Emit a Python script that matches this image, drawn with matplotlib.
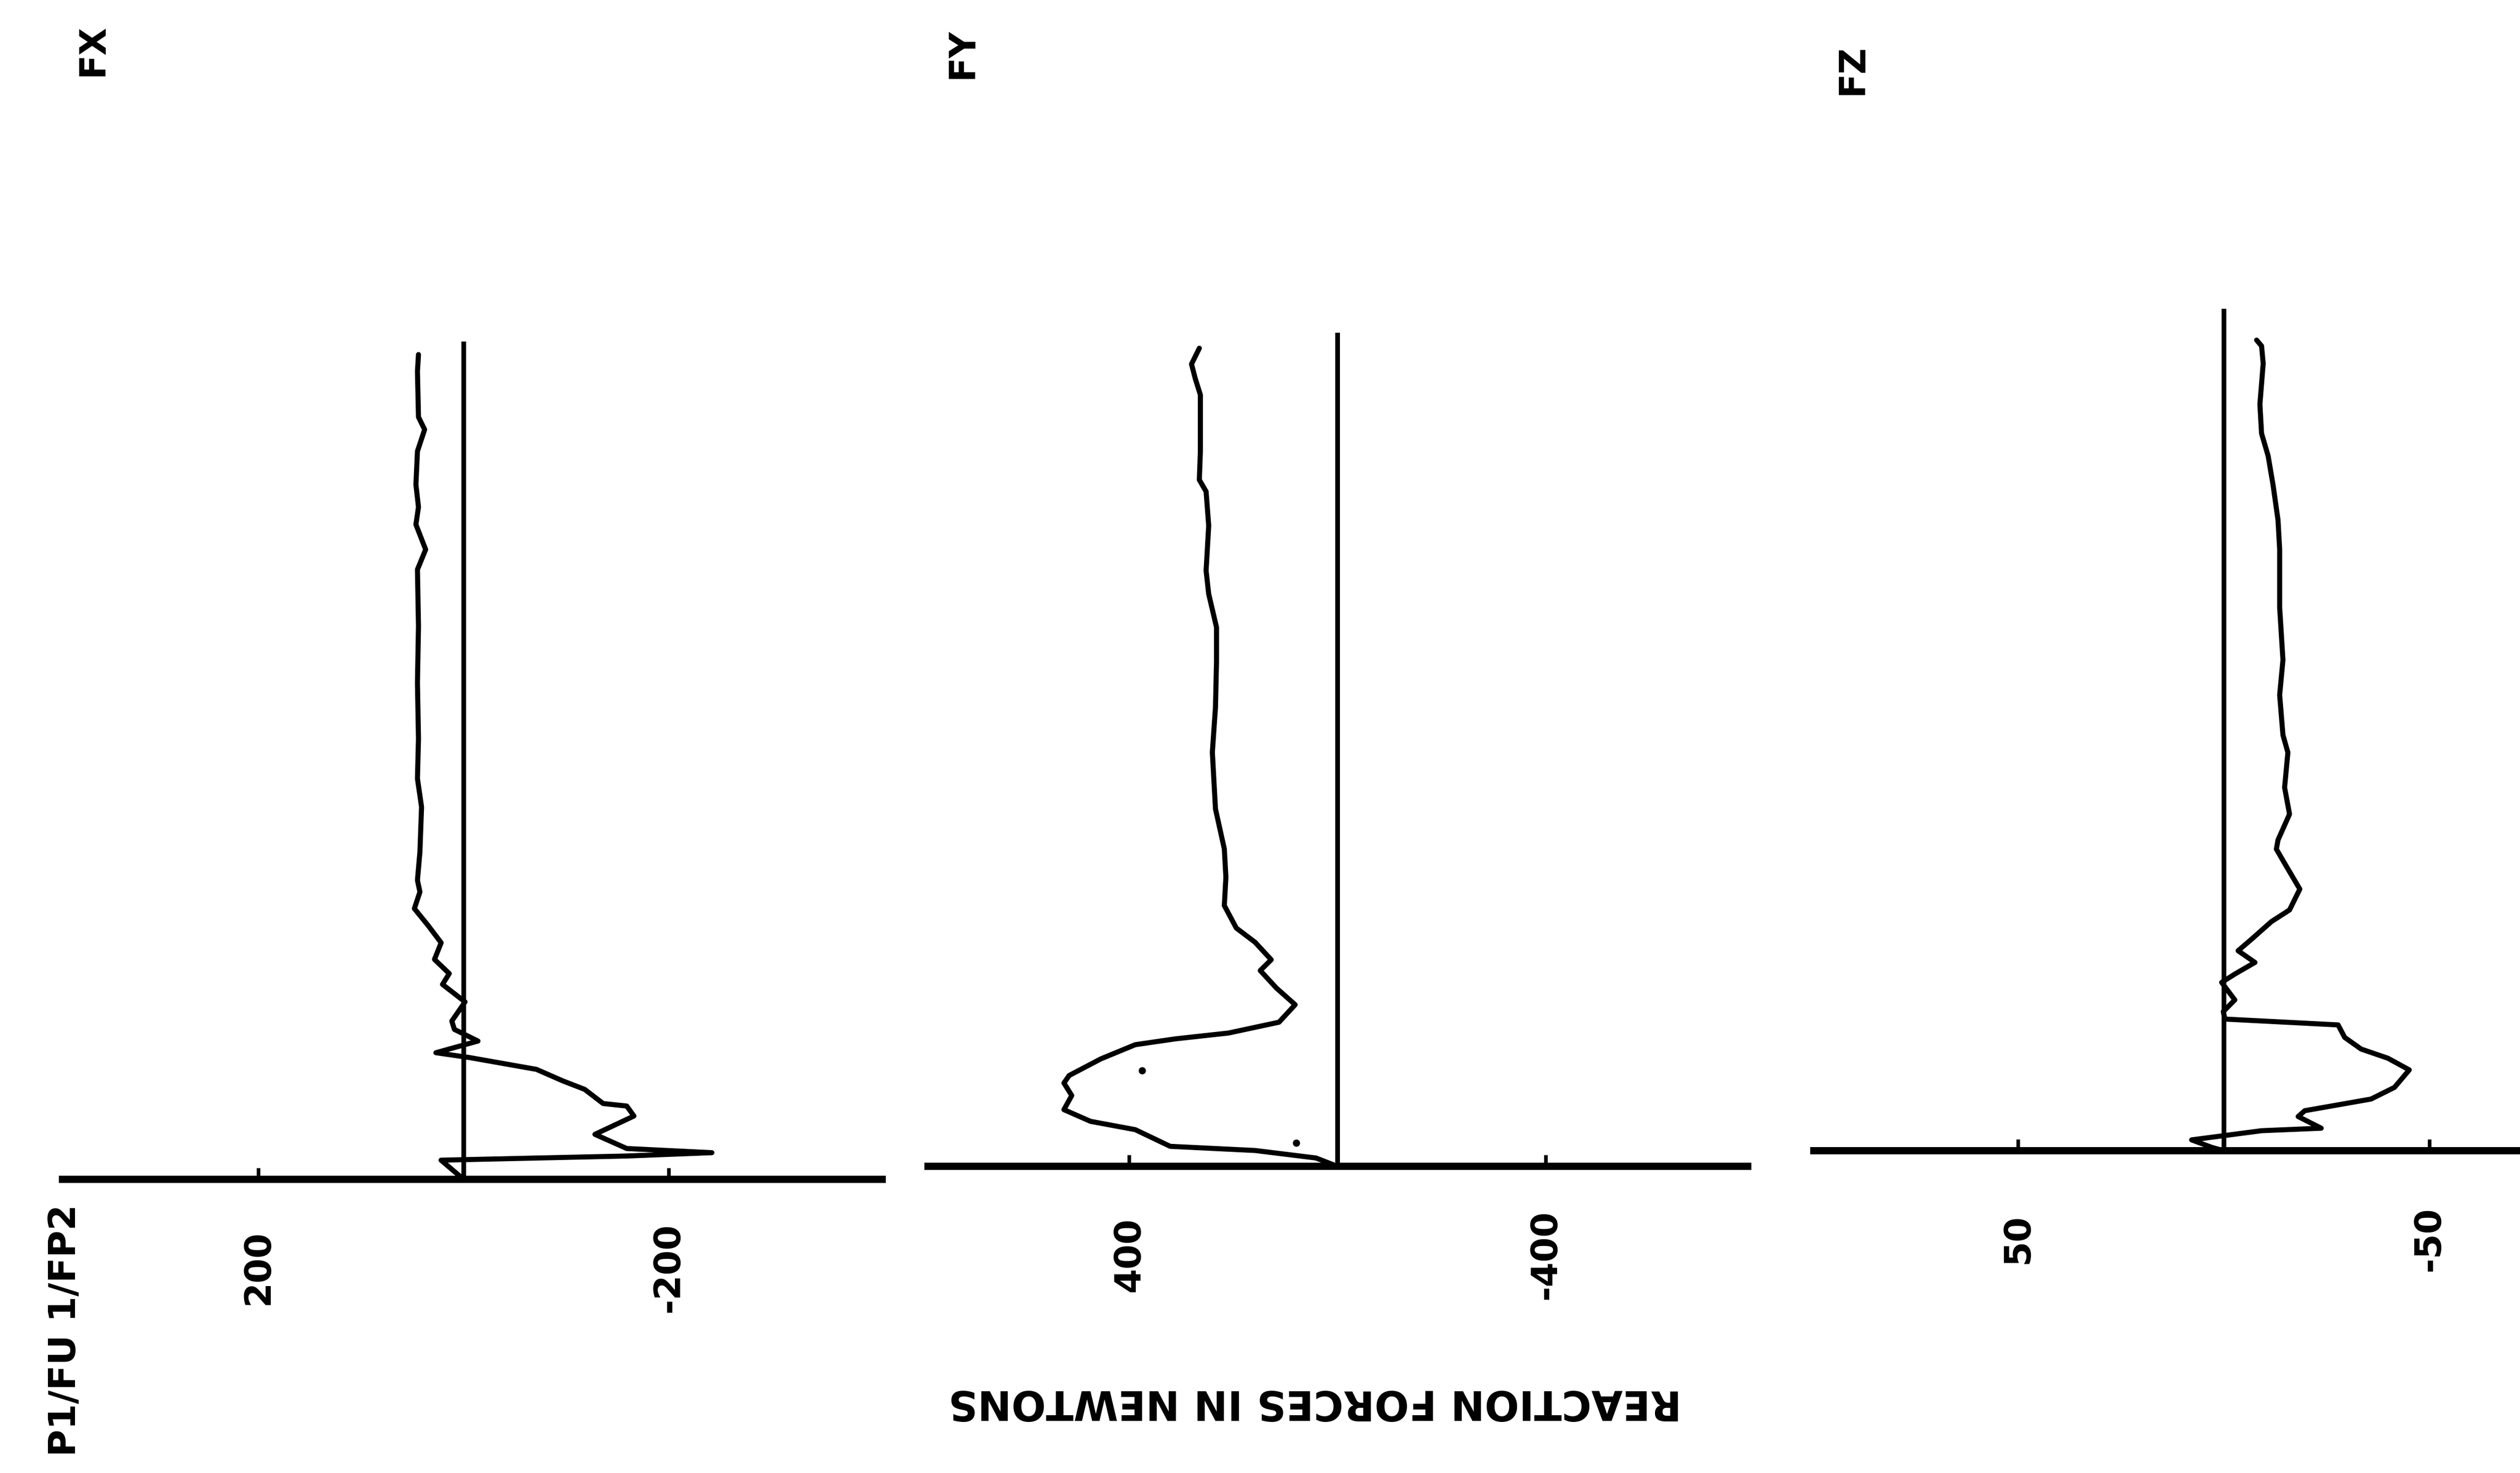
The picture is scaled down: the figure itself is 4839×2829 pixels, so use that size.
import matplotlib
matplotlib.use("Agg")
import matplotlib.pyplot as plt
from matplotlib import font_manager

# narrow face if available, the scan uses a condensed sans
names = {f.name for f in font_manager.fontManager.ttflist}
narrow = "Liberation Sans Narrow" in names
font = "Liberation Sans Narrow" if narrow else "DejaVu Sans"
plt.rcParams['font.family'] = [font, 'DejaVu Sans']
k = 1.0 if narrow else 0.8

# traces (force in N, time in % of record, top to bottom)
fx_force = [44, 45, 44, 38, 45, 46.5, 44, 46.5, 37, 45, 44, 45, 44, 45, 41, 42.6,
            45, 42.6, 48, 34.8, 21.9, 28.4, 14, 20.6, -1.4, 11.5, 9, -14, 27, -6.6,
            -71, -97, -118, -136, -159, -166, -128, -159, -242, -159, 22, 0]
fx_time = [99, 97, 91.5, 90, 87.4, 83.4, 80.7, 78.6, 75.6, 73.2, 66.4, 59.6, 52.9,
           48.1, 44.7, 39.3, 35.9, 34.5, 32.5, 30.5, 28.4, 26.4, 24.7, 23.4, 21.3,
           19, 18, 16.6, 15.2, 14.6, 13.2, 11.8, 10.8, 9.1, 8.8, 7.6, 5.4, 3.7, 3.2,
           2.8, 2.3, 0]

fy_force = [265, 280, 273, 263, 263, 265, 252, 247, 252, 247, 232, 232, 234, 240,
            234, 217, 214, 217, 194, 158, 127, 148, 117, 81, 112, 209, 311, 388,
            454, 515, 525, 510, 525, 474, 388, 321, 158, 41, 0]
fy_time = [98.2, 96.3, 94.6, 92.6, 85.8, 82.4, 81, 76.9, 71.5, 68.7, 64.7, 60.6,
           55.1, 49.7, 42.9, 38.1, 34.7, 31.3, 28.6, 26.9, 24.8, 23.5, 21.4, 19.4,
           17.3, 16, 15.3, 14.6, 12.9, 10.9, 10.0, 8.5, 6.8, 5.4, 4.4, 2.4, 1.9,
           1.0, 0]
fy_dots_force = [375, 79]
fy_dots_time = [11.5, 2.8]

fz_force = [-8, -9.2, -9.6, -8.8, -9.2, -10.8, -12, -13.2, -13.6, -13.6, -14.4,
            -13.6, -14.4, -15.6, -14.8, -16, -13.2, -12.8, -14.8, -18.5, -16,
            -11.6, -6.8, -3.5, -7.6, -2.7, 0.5, -2.7, 0.1, -0.3, -27.8, -29.4,
            -33.4, -39.9, -45.1, -41.5, -35.8, -19.7, -18.1, -23.7, -9.2, 7.8,
            2.9, 0]
fz_time = [97.3, 96.6, 94.5, 89.6, 86.1, 83.4, 79.9, 75.7, 72.2, 65.2, 58.9,
           54.7, 49.9, 47.8, 43.6, 40.4, 37.3, 36.2, 34.5, 31.4, 28.9, 27.5, 25.4,
           24, 22.6, 21.2, 20.2, 18.1, 16.7, 15.8, 15.1, 13.6, 12.2, 11.1, 9.7,
           7.6, 6.2, 4.8, 4.1, 2.7, 2.4, 1.3, 0.4, 0]

titles = ["FX", "FY", "FZ"]
tick_values = [[200, -200], [400, -400], [50, -50]]
tick_labels = [["200", "-200"], ["400", "-400"], ["50", "-50"]]
zero_top = [100.3, 99.8, 100.8]
limits = [(391, -408), (786, -788), (99.6, -71.5)]

W, H = 4839, 2829
fig = plt.figure(figsize=(W / 100, H / 100), dpi=100)

# pixel frames of each panel: left, right, baseline
frames = [(120, 1694, 2265), (1782, 3356, 2240), (3483, 4835, 2210)]
tmax = 105
traces = [(fx_force, fx_time), (fy_force, fy_time), (fz_force, fz_time)]

for i, (left, right, base) in enumerate(frames):
    ax = fig.add_axes([left / W, (H - base) / H, (right - left) / W, tmax * 16 / H])
    force, time = traces[i]
    ax.plot(force, time, color='black', lw=7, solid_joinstyle='round',
            solid_capstyle='round')
    ax.plot([0, 0], [0, zero_top[i]], color='black', lw=6.5)
    if i == 1:
        ax.plot(fy_dots_force, fy_dots_time, 'o', color='black', ms=9)
    ax.set_xlim(limits[i])
    ax.set_ylim(0, tmax)
    for s in ['top', 'left', 'right']:
        ax.spines[s].set_visible(False)
    ax.spines['bottom'].set_linewidth(10)
    ax.set_yticks([])
    ax.set_xticks(tick_values[i])
    ax.set_xticklabels(tick_labels[i])
    ax.tick_params(axis='x', direction='in', length=16, width=5,
                   pad=122, labelsize=62 * k, labelrotation=90)
    for lbl in ax.get_xticklabels():
        lbl.set_verticalalignment('center')
        lbl.set_fontweight('bold')
    ax.patch.set_alpha(0)

title_pos = [(178, 96), (1848, 102), (3557, 133)]
for t, (x, y) in zip(titles, title_pos):
    fig.text(x / W, 1 - y / H, t, rotation=90, ha='center', va='center',
             fontsize=62 * k, fontweight='bold')

fig.text(125 / W, 1 - 2555 / H, "P1/FU 1/FP2", rotation=90, ha='center',
         va='center', fontsize=64 * k, fontweight='bold')
fig.text(2525 / W, 1 - 2692 / H, "REACTION FORCES IN NEWTONS", rotation=180,
         ha='center', va='center', fontsize=70 * k, fontweight='bold')

fig.savefig("out.png", dpi=100)
